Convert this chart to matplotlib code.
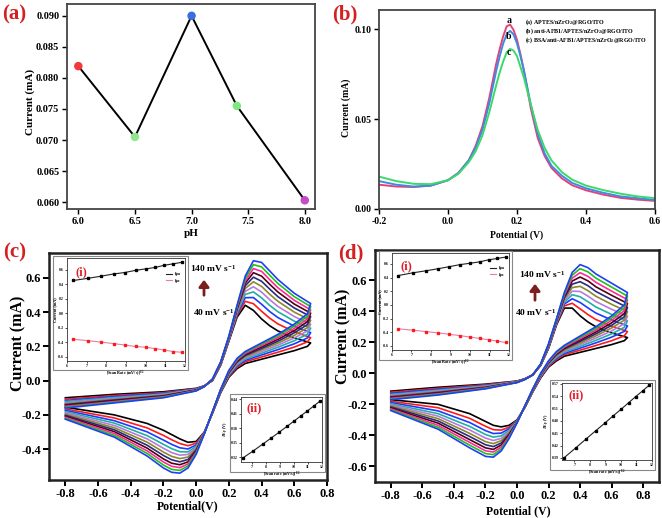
import numpy as np
import matplotlib
matplotlib.use('agg')
import matplotlib.pyplot as plt
from matplotlib.patches import Rectangle

W, H = 662, 518

## (a) pH optimisation
ph = [6.0, 6.5, 7.0, 7.4, 8.0]
ph_current = [0.0819, 0.0705, 0.0900, 0.0755, 0.0603]
ph_colors = ['#f03a3a', '#8ee88a', '#3a6ee0', '#7ee87e', '#c44cc8']

## (b) DPV of the electrodes
dpv_x = [-0.2, -0.15, -0.1, -0.05, 0.0, 0.03, 0.06, 0.08, 0.1, 0.12, 0.14, 0.15, 0.16, 0.17, 0.18,
         0.19, 0.2, 0.21, 0.22, 0.24, 0.26, 0.28, 0.3, 0.33, 0.36, 0.4, 0.45, 0.5, 0.55, 0.6]
dpv_a = [0.0135, 0.0125, 0.0122, 0.0130, 0.0160, 0.0200, 0.0270, 0.0350, 0.0460, 0.0620, 0.0810, 0.0890,
         0.0960, 0.1015, 0.1025, 0.0995, 0.0940, 0.0860, 0.0770, 0.0560, 0.0395, 0.0295, 0.0228, 0.0170,
         0.0132, 0.0104, 0.0080, 0.0062, 0.0052, 0.0045]
dpv_b = [0.0155, 0.0135, 0.0125, 0.0130, 0.0160, 0.0200, 0.0270, 0.0340, 0.0440, 0.0590, 0.0770, 0.0850,
         0.0920, 0.0970, 0.0990, 0.0970, 0.0920, 0.0850, 0.0770, 0.0580, 0.0420, 0.0310, 0.0240, 0.0185,
         0.0145, 0.0115, 0.0090, 0.0070, 0.0060, 0.0050]
dpv_c = [0.0180, 0.0155, 0.0140, 0.0138, 0.0160, 0.0195, 0.0260, 0.0320, 0.0410, 0.0540, 0.0690, 0.0760,
         0.0820, 0.0870, 0.0890, 0.0880, 0.0850, 0.0790, 0.0730, 0.0580, 0.0440, 0.0340, 0.0270, 0.0205,
         0.0163, 0.0130, 0.0105, 0.0085, 0.0070, 0.0060]
dpv_colors = ['#e8407a', '#3a8ee0', '#3ed86a']
dpv_legend = ['(a) APTES/nZrO$_2$@RGO/ITO',
              '(b) anti-AFB1/APTES/nZrO$_2$@RGO/ITO',
              '(c) BSA/anti-AFB1/APTES/nZrO$_2$@RGO/ITO']

## (c), (d) CV at 40..140 mV/s ; rows = potential, columns = scan rate
scan_rates = [40, 50, 60, 70, 80, 90, 100, 110, 120, 130, 140]
sqrt_rate = [6.32, 7.07, 7.75, 8.37, 8.94, 9.49, 10.00, 10.49, 10.95, 11.40, 11.83]
cv_colors = ['#000000', '#ff1a1a', '#1a3cff', '#20b0a0', '#b878e0', '#8a8a2a',
             '#2a2a80', '#500018', '#ff2a9a', '#20c020', '#2040f0']

cv_fwd_x = [-0.8, -0.5, -0.2, 0.0, 0.05, 0.1, 0.15, 0.2, 0.25, 0.3, 0.35, 0.4, 0.45, 0.5, 0.6, 0.7]
cv_rev_x = [0.7, 0.68, 0.6, 0.5, 0.4, 0.3, 0.25, 0.2, 0.15, 0.1, 0.05, 0.0,
            -0.05, -0.1, -0.15, -0.2, -0.3, -0.5, -0.8]

c_fwd = [
    [-0.100, -0.108, -0.116, -0.122, -0.129, -0.135, -0.140, -0.145, -0.150, -0.155, -0.160],
    [-0.080, -0.087, -0.093, -0.099, -0.104, -0.109, -0.113, -0.118, -0.122, -0.126, -0.130],
    [-0.065, -0.070, -0.074, -0.078, -0.082, -0.085, -0.088, -0.091, -0.094, -0.097, -0.100],
    [-0.045, -0.047, -0.049, -0.051, -0.052, -0.054, -0.055, -0.056, -0.058, -0.059, -0.060],
    [-0.030, -0.031, -0.031, -0.032, -0.032, -0.033, -0.033, -0.034, -0.034, -0.035, -0.035],
    [0.000, 0.001, 0.003, 0.004, 0.005, 0.006, 0.007, 0.008, 0.008, 0.009, 0.010],
    [0.090, 0.093, 0.095, 0.097, 0.100, 0.102, 0.103, 0.105, 0.107, 0.108, 0.110],
    [0.230, 0.234, 0.238, 0.241, 0.244, 0.247, 0.250, 0.253, 0.255, 0.258, 0.260],
    [0.370, 0.380, 0.388, 0.396, 0.403, 0.410, 0.417, 0.423, 0.429, 0.435, 0.440],
    [0.440, 0.463, 0.484, 0.503, 0.521, 0.538, 0.554, 0.569, 0.583, 0.597, 0.610],
    [0.410, 0.449, 0.485, 0.518, 0.548, 0.577, 0.604, 0.630, 0.654, 0.677, 0.700],
    [0.360, 0.405, 0.446, 0.483, 0.517, 0.550, 0.580, 0.610, 0.638, 0.664, 0.690],
    [0.320, 0.364, 0.403, 0.439, 0.472, 0.504, 0.534, 0.562, 0.589, 0.615, 0.640],
    [0.290, 0.331, 0.368, 0.402, 0.433, 0.463, 0.490, 0.517, 0.542, 0.567, 0.590],
    [0.250, 0.285, 0.318, 0.347, 0.374, 0.400, 0.424, 0.447, 0.469, 0.490, 0.510],
    [0.220, 0.251, 0.280, 0.306, 0.329, 0.352, 0.374, 0.394, 0.413, 0.432, 0.450],
]
c_rev = [
    [0.220, 0.251, 0.280, 0.306, 0.329, 0.352, 0.374, 0.394, 0.413, 0.432, 0.450],
    [0.200, 0.226, 0.249, 0.271, 0.290, 0.309, 0.327, 0.344, 0.360, 0.375, 0.390],
    [0.175, 0.196, 0.215, 0.233, 0.249, 0.264, 0.279, 0.292, 0.305, 0.318, 0.330],
    [0.150, 0.166, 0.181, 0.195, 0.207, 0.219, 0.230, 0.241, 0.251, 0.261, 0.270],
    [0.125, 0.138, 0.150, 0.160, 0.170, 0.180, 0.188, 0.197, 0.205, 0.213, 0.220],
    [0.100, 0.110, 0.118, 0.126, 0.133, 0.140, 0.147, 0.153, 0.159, 0.165, 0.170],
    [0.070, 0.078, 0.086, 0.092, 0.099, 0.105, 0.110, 0.115, 0.120, 0.125, 0.130],
    [0.020, 0.025, 0.030, 0.035, 0.039, 0.043, 0.047, 0.050, 0.054, 0.057, 0.060],
    [-0.070, -0.067, -0.065, -0.063, -0.060, -0.058, -0.057, -0.055, -0.053, -0.052, -0.050],
    [-0.190, -0.189, -0.187, -0.186, -0.185, -0.184, -0.183, -0.182, -0.182, -0.181, -0.180],
    [-0.300, -0.301, -0.303, -0.304, -0.305, -0.306, -0.307, -0.308, -0.308, -0.309, -0.310],
    [-0.355, -0.365, -0.375, -0.383, -0.391, -0.398, -0.405, -0.412, -0.418, -0.424, -0.430],
    [-0.360, -0.380, -0.399, -0.416, -0.431, -0.446, -0.460, -0.474, -0.486, -0.498, -0.510],
    [-0.340, -0.367, -0.392, -0.415, -0.435, -0.455, -0.474, -0.491, -0.508, -0.524, -0.540],
    [-0.315, -0.345, -0.372, -0.397, -0.420, -0.442, -0.462, -0.482, -0.500, -0.518, -0.535],
    [-0.290, -0.320, -0.347, -0.372, -0.395, -0.417, -0.437, -0.457, -0.475, -0.493, -0.510],
    [-0.250, -0.276, -0.299, -0.321, -0.340, -0.359, -0.377, -0.394, -0.410, -0.425, -0.440],
    [-0.200, -0.218, -0.234, -0.248, -0.262, -0.275, -0.287, -0.298, -0.309, -0.320, -0.330],
    [-0.155, -0.165, -0.173, -0.181, -0.188, -0.195, -0.202, -0.208, -0.214, -0.220, -0.225],
]
d_fwd = [
    [-0.115, -0.122, -0.129, -0.136, -0.141, -0.147, -0.152, -0.157, -0.161, -0.166, -0.170],
    [-0.090, -0.097, -0.103, -0.109, -0.114, -0.119, -0.123, -0.128, -0.132, -0.136, -0.140],
    [-0.070, -0.074, -0.078, -0.081, -0.084, -0.087, -0.090, -0.093, -0.095, -0.098, -0.100],
    [-0.050, -0.051, -0.053, -0.054, -0.055, -0.056, -0.057, -0.058, -0.058, -0.059, -0.060],
    [-0.035, -0.036, -0.036, -0.037, -0.037, -0.038, -0.038, -0.039, -0.039, -0.040, -0.040],
    [-0.010, -0.010, -0.010, -0.010, -0.010, -0.010, -0.010, -0.010, -0.010, -0.010, -0.010],
    [0.050, 0.051, 0.053, 0.054, 0.055, 0.056, 0.057, 0.058, 0.058, 0.059, 0.060],
    [0.160, 0.164, 0.168, 0.171, 0.174, 0.177, 0.180, 0.183, 0.185, 0.188, 0.190],
    [0.310, 0.315, 0.320, 0.325, 0.329, 0.333, 0.337, 0.340, 0.344, 0.347, 0.350],
    [0.420, 0.434, 0.446, 0.457, 0.468, 0.478, 0.487, 0.496, 0.504, 0.512, 0.520],
    [0.420, 0.451, 0.480, 0.506, 0.529, 0.552, 0.574, 0.594, 0.613, 0.632, 0.650],
    [0.370, 0.415, 0.456, 0.493, 0.527, 0.560, 0.590, 0.620, 0.648, 0.674, 0.700],
    [0.330, 0.378, 0.421, 0.461, 0.497, 0.532, 0.564, 0.595, 0.624, 0.653, 0.680],
    [0.300, 0.346, 0.388, 0.427, 0.462, 0.496, 0.527, 0.557, 0.586, 0.613, 0.640],
    [0.260, 0.304, 0.343, 0.379, 0.412, 0.444, 0.474, 0.502, 0.529, 0.555, 0.580],
    [0.230, 0.269, 0.305, 0.338, 0.368, 0.397, 0.424, 0.450, 0.474, 0.497, 0.520],
]
d_rev = [
    [0.230, 0.269, 0.305, 0.338, 0.368, 0.397, 0.424, 0.450, 0.474, 0.497, 0.520],
    [0.210, 0.241, 0.270, 0.296, 0.319, 0.342, 0.364, 0.384, 0.403, 0.422, 0.440],
    [0.185, 0.210, 0.233, 0.254, 0.273, 0.292, 0.309, 0.325, 0.341, 0.356, 0.370],
    [0.160, 0.179, 0.196, 0.212, 0.227, 0.241, 0.254, 0.266, 0.278, 0.289, 0.300],
    [0.135, 0.149, 0.162, 0.174, 0.185, 0.195, 0.205, 0.214, 0.223, 0.232, 0.240],
    [0.110, 0.120, 0.128, 0.136, 0.143, 0.150, 0.157, 0.163, 0.169, 0.175, 0.180],
    [0.080, 0.088, 0.096, 0.102, 0.109, 0.115, 0.120, 0.125, 0.130, 0.135, 0.140],
    [0.040, 0.045, 0.050, 0.055, 0.059, 0.063, 0.067, 0.070, 0.074, 0.077, 0.080],
    [-0.030, -0.026, -0.022, -0.019, -0.016, -0.013, -0.010, -0.007, -0.005, -0.002, 0.000],
    [-0.120, -0.117, -0.115, -0.113, -0.110, -0.108, -0.107, -0.105, -0.103, -0.102, -0.100],
    [-0.220, -0.219, -0.217, -0.216, -0.215, -0.214, -0.213, -0.212, -0.212, -0.211, -0.210],
    [-0.300, -0.303, -0.305, -0.307, -0.310, -0.312, -0.313, -0.315, -0.317, -0.318, -0.320],
    [-0.335, -0.347, -0.357, -0.367, -0.375, -0.384, -0.392, -0.399, -0.406, -0.413, -0.420],
    [-0.345, -0.366, -0.385, -0.403, -0.419, -0.434, -0.449, -0.462, -0.475, -0.488, -0.500],
    [-0.335, -0.363, -0.388, -0.411, -0.433, -0.453, -0.472, -0.490, -0.507, -0.524, -0.540],
    [-0.310, -0.341, -0.369, -0.394, -0.417, -0.440, -0.460, -0.480, -0.499, -0.517, -0.535],
    [-0.260, -0.290, -0.317, -0.342, -0.365, -0.387, -0.407, -0.427, -0.445, -0.463, -0.480],
    [-0.200, -0.222, -0.242, -0.260, -0.276, -0.292, -0.307, -0.321, -0.335, -0.348, -0.360],
    [-0.170, -0.180, -0.188, -0.196, -0.203, -0.210, -0.217, -0.223, -0.229, -0.235, -0.240],
]

## insets: peak currents and peak separation vs sqrt(scan rate)
c_ipa = [0.45, 0.48, 0.51, 0.54, 0.56, 0.59, 0.61, 0.63, 0.66, 0.68, 0.70]
c_ipc = [-0.36, -0.38, -0.40, -0.42, -0.44, -0.46, -0.47, -0.49, -0.51, -0.53, -0.54]
d_ipa = [0.43, 0.47, 0.50, 0.53, 0.56, 0.59, 0.61, 0.63, 0.66, 0.68, 0.70]
d_ipc = [-0.35, -0.37, -0.39, -0.41, -0.43, -0.45, -0.47, -0.49, -0.51, -0.53, -0.55]
c_dep = [0.318, 0.333, 0.347, 0.360, 0.372, 0.384, 0.395, 0.406, 0.416, 0.426, 0.436]
d_dep = [0.390, 0.414, 0.436, 0.456, 0.474, 0.492, 0.508, 0.524, 0.539, 0.553, 0.567]

plt.rcParams['font.family'] = ['Liberation Serif', 'DejaVu Serif']
plt.rcParams['font.weight'] = 'bold'
plt.rcParams['axes.labelweight'] = 'bold'
plt.rcParams['axes.unicode_minus'] = False
plt.rcParams['mathtext.fontset'] = 'custom'
plt.rcParams['mathtext.rm'] = 'Liberation Serif:bold'
plt.rcParams['mathtext.it'] = 'Liberation Serif:bold'
plt.rcParams['mathtext.bf'] = 'Liberation Serif:bold'

fig = plt.figure(figsize=(W / 100, H / 100), dpi=100)


def px_axes(l, t, r, b):
    return fig.add_axes([l / W, 1 - b / H, (r - l) / W, (b - t) / H])


def px_text(x, y, s, **kw):
    fig.text(x / W, 1 - y / H, s, **kw)


def frame(ax, lw, col, size, tlen=3.5, pad=2):
    for sp in ax.spines.values():
        sp.set_linewidth(lw)
        sp.set_color(col)
    ax.tick_params(direction='out', length=tlen, width=lw * 0.8, labelsize=size, colors='black', pad=pad)


## (a)
ax = px_axes(67, 4, 315, 209)
ax.plot(ph, ph_current, color='black', lw=1.4, zorder=1)
ax.scatter(ph, ph_current, c=ph_colors, s=26, zorder=2)
ax.set_xlim(5.9, 8.09)
ax.set_ylim(0.0589, 0.0919)
ax.set_xticks([6.0, 6.5, 7.0, 7.5, 8.0])
ax.set_yticks([0.060, 0.065, 0.070, 0.075, 0.080, 0.085, 0.090])
ax.yaxis.set_major_formatter(matplotlib.ticker.FormatStrFormatter('%.3f'))
ax.xaxis.set_major_formatter(matplotlib.ticker.FormatStrFormatter('%.1f'))
frame(ax, 1.3, '#444444', 7.5)
ax.set_xlabel('pH', fontsize=8)
ax.set_ylabel('Current (mA)', fontsize=8)
ax.xaxis.set_label_coords(0.5, -0.10)
ax.yaxis.set_label_coords(-0.13, 0.52)

## (b)
ax = px_axes(379, 10, 655, 209)
for ys, col in zip([dpv_a, dpv_b, dpv_c], dpv_colors):
    ax.plot(dpv_x, ys, color=col, lw=1.4)
ax.set_xlim(-0.2, 0.6)
ax.set_ylim(0.0, 0.1106)
ax.set_xticks([-0.2, 0.0, 0.2, 0.4, 0.6])
ax.set_yticks([0.00, 0.05, 0.10])
ax.yaxis.set_major_formatter(matplotlib.ticker.FormatStrFormatter('%.2f'))
ax.xaxis.set_major_formatter(matplotlib.ticker.FormatStrFormatter('%.1f'))
frame(ax, 1.3, '#444444', 7)
ax.set_xlabel('Potential (V)', fontsize=7)
ax.set_ylabel('Current (mA)', fontsize=7)
ax.xaxis.set_label_coords(0.5, -0.11)
ax.yaxis.set_label_coords(-0.102, 0.51)
for lab, yy in zip(['a', 'b', 'c'], [0.1048, 0.0958, 0.0868]):
    ax.text(0.176, yy, lab, fontsize=7, ha='center', va='center')
for s, yy in zip(dpv_legend, [0.1037, 0.0989, 0.0939]):
    ax.text(0.223, yy, s, fontsize=4.3, ha='left', va='center')


def cv_panel(box, fwd, rev, xlim, ylim, yticks, xlabel, xlab_pos, ylab_pos):
    ax = px_axes(*box)
    fwd = np.array(fwd)
    rev = np.array(rev)
    for k in range(len(scan_rates)):
        ax.plot(cv_fwd_x + cv_rev_x, list(fwd[:, k]) + list(rev[:, k]), color=cv_colors[k], lw=1.2)
    ax.set_xlim(*xlim)
    ax.set_ylim(*ylim)
    ax.set_xticks([-0.8, -0.6, -0.4, -0.2, 0.0, 0.2, 0.4, 0.6, 0.8])
    ax.set_yticks(yticks)
    ax.xaxis.set_major_formatter(matplotlib.ticker.FormatStrFormatter('%.1f'))
    ax.yaxis.set_major_formatter(matplotlib.ticker.FormatStrFormatter('%.1f'))
    frame(ax, 1.8, '#222222', 9, tlen=4, pad=1.5)
    ax.set_xlabel(xlabel, fontsize=8.5)
    ax.set_ylabel('Current (mA)', fontsize=11.5)
    ax.xaxis.set_label_coords(*xlab_pos)
    ax.yaxis.set_label_coords(*ylab_pos)
    return ax


def peak_inset(box, outer, ipa, ipc):
    rect = Rectangle((outer[0] / W, 1 - outer[3] / H), (outer[2] - outer[0]) / W, (outer[3] - outer[1]) / H,
                     transform=fig.transFigure, facecolor='white', edgecolor='#888888', lw=0.8, zorder=5)
    fig.patches.append(rect)
    ax = px_axes(*box)
    ax.set_zorder(6)
    ax.plot(sqrt_rate, ipa, color='#222222', lw=0.8, label='Ipa')
    ax.plot(sqrt_rate, ipa, 's', color='black', ms=1.8)
    ax.plot(sqrt_rate, ipc, color='#f07aa0', lw=0.8, label='Ipc')
    ax.plot(sqrt_rate, ipc, 's', color='#ff1a1a', ms=1.8)
    ax.set_xlim(6, 12)
    ax.set_ylim(-0.66, 0.76)
    ax.set_xticks([6, 7, 8, 9, 10, 11, 12])
    ax.set_yticks([-0.6, -0.4, -0.2, 0.0, 0.2, 0.4, 0.6])
    ax.yaxis.set_major_formatter(matplotlib.ticker.FormatStrFormatter('%.1f'))
    frame(ax, 0.6, '#333333', 2.8, tlen=1.2, pad=1)
    ax.set_xlabel('[Scan Rate (mV/s)]$^{1/2}$', fontsize=3, labelpad=0.5)
    ax.set_ylabel('Current (mA)', fontsize=3, labelpad=0.5)
    ax.legend(fontsize=3, frameon=False, loc='upper right', bbox_to_anchor=(1.0, 0.9),
              handlelength=1.5, labelspacing=0.6)
    ax.text(0.07, 0.92, '(i)', transform=ax.transAxes, color='#e0202a', fontsize=9, va='top')


def sep_inset(box, outer, dep, ylim, yticks):
    rect = Rectangle((outer[0] / W, 1 - outer[3] / H), (outer[2] - outer[0]) / W, (outer[3] - outer[1]) / H,
                     transform=fig.transFigure, facecolor='white', edgecolor='#888888', lw=0.8, zorder=5)
    fig.patches.append(rect)
    ax = px_axes(*box)
    ax.set_zorder(6)
    ax.plot(sqrt_rate, dep, color='#222222', lw=0.8)
    ax.plot(sqrt_rate, dep, 's', color='black', ms=1.6)
    ax.set_xlim(6.2, 12)
    ax.set_ylim(*ylim)
    ax.set_xticks([7, 8, 9, 10, 11, 12])
    ax.set_yticks(yticks)
    ax.yaxis.set_major_formatter(matplotlib.ticker.FormatStrFormatter('%.2f'))
    frame(ax, 0.6, '#333333', 2.8, tlen=1.2, pad=1)
    ax.set_xlabel('[Scan rate (mV/s)]$^{1/2}$', fontsize=3, labelpad=0.5)
    ax.set_ylabel('$\\Delta$E$_p$ (V)', fontsize=3, labelpad=0.5)
    ax.text(0.07, 0.92, '(ii)', transform=ax.transAxes, color='#e0202a', fontsize=9, va='top')


## (c)
cv_panel((49, 253, 327, 480), c_fwd, c_rev, (-0.9, 0.8), (-0.58, 0.745),
         [-0.4, -0.2, 0.0, 0.2, 0.4, 0.6], 'Potential(V)', (0.5, -0.088), (-0.083, 0.60))
peak_inset((67, 258, 185, 361), (53, 256, 188, 370), c_ipa, c_ipc)
sep_inset((241, 397, 322, 462), (230, 394, 325, 472), c_dep, (0.31, 0.445), [0.32, 0.35, 0.38, 0.41, 0.44])

## (d)
cv_panel((375, 250, 659, 482), d_fwd, d_rev, (-0.9, 0.9), (-0.70, 0.794),
         [-0.6, -0.4, -0.2, 0.0, 0.2, 0.4, 0.6], 'Potential (V)', (0.504, -0.10), (-0.083, 0.63))
peak_inset((392, 253, 509, 350), (379, 251, 512, 360), d_ipa, d_ipc)
sep_inset((562, 383, 652, 460), (550, 380, 655, 470), d_dep, (0.385, 0.572),
          [0.39, 0.42, 0.45, 0.48, 0.51, 0.54, 0.57])

## scan-rate arrows
arrow_col = '#7a1e1e'
for (ax_x, y0, y1, tx1, ty1, tx0, ty0) in [(204, 298, 277, 190, 269, 193, 312),
                                          (535, 303, 281, 519, 275, 515, 312)]:
    fig.patches.append(matplotlib.patches.FancyArrowPatch(
        (ax_x / W, 1 - y0 / H), (ax_x / W, 1 - y1 / H), transform=fig.transFigure,
        arrowstyle='-|>,head_width=3,head_length=4', lw=2, color=arrow_col, zorder=7))
    px_text(tx1, ty1, '140 mV s$^{-1}$', fontsize=6.8, va='center', zorder=7)
    px_text(tx0, ty0, '40 mV s$^{-1}$', fontsize=6.8, va='center', zorder=7)

## panel letters
for lab, x, y in [('(a)', 2, 14), ('(b)', 332, 14), ('(c)', 3, 252), ('(d)', 338, 253)]:
    px_text(x, y, lab, fontsize=15, color='#d42020', va='center')

fig.savefig('out.png', dpi=100)
